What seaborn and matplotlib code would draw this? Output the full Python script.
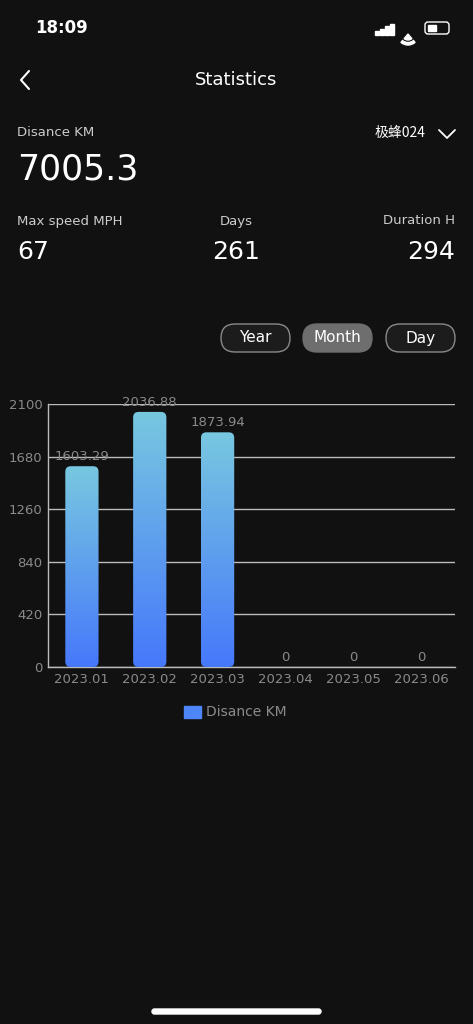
import numpy as np
import matplotlib
matplotlib.use("Agg")
import matplotlib.pyplot as plt
import seaborn as sns
import pandas as pd
from matplotlib.patches import FancyBboxPatch, Rectangle, Wedge

# data
months = ["2023.01", "2023.02", "2023.03", "2023.04", "2023.05", "2023.06"]
distance = [1603.29, 2036.88, 1873.94, 0, 0, 0]
y_ticks = [0, 420, 840, 1260, 1680, 2100]
stat_labels = ["Max speed MPH", "Days", "Duration H"]
stat_values = ["67", "261", "294"]
periods = ["Year", "Month", "Day"]

sns.set_theme(style="dark")
plt.rcParams['font.family'] = ['DejaVu Sans', 'Noto Sans CJK SC']

BG = "#111111"
GREY = "#8a8a8a"
fig = plt.figure(figsize=(4.73, 10.24), dpi=100, facecolor=BG)

# overlay in pixel coords for the app ui
ui = fig.add_axes([0, 0, 1, 1], facecolor=BG)
ui.set_xlim(0, 473)
ui.set_ylim(1024, 0)
ui.axis("off")

ui.text(35, 28, "18:09", color="white", fontsize=12, fontweight="bold", va="center")
# signal bars
for i in range(4):
    ui.add_patch(Rectangle((375 + i * 5, 35 - (4 + i * 2.5)), 3.5, 4 + i * 2.5, color="white"))
ui.add_patch(Wedge((408, 34), 11, 50, 130, color="white", width=2.5))
ui.add_patch(Wedge((408, 34), 6, 50, 130, color="white", width=2.5))
ui.add_patch(Wedge((408, 34), 2.5, 50, 130, color="white"))
ui.add_patch(FancyBboxPatch((425, 22), 24, 12, boxstyle="round,pad=0,rounding_size=3",
                            fc="none", ec="white", lw=1))
ui.add_patch(Rectangle((428, 25), 8, 6, color="white"))

ui.plot([29, 21, 29], [71, 80, 89], color="white", lw=1.5)
ui.text(236, 80, "Statistics", color="white", fontsize=13, ha="center", va="center")

ui.text(17, 132, "Disance KM", color="#cccccc", fontsize=9.5, va="center")
ui.text(17, 169, "7005.3", color="white", fontsize=25, va="center")
ui.text(425, 133, "极蜂024", color="white", fontsize=10, ha="right", va="center",
        family=['Noto Sans CJK SC', 'DejaVu Sans'])
ui.plot([439, 447, 455], [130, 138, 130], color="white", lw=1.3)

for lab, val, x, ha in zip(stat_labels, stat_values, [17, 236, 455], ["left", "center", "right"]):
    ui.text(x, 221, lab, color="#cccccc", fontsize=9.5, ha=ha, va="center")
    ui.text(x, 252, val, color="white", fontsize=18, ha=ha, va="center")

for lab, x in zip(periods, [221, 303, 386]):
    active = lab == "Month"
    ui.add_patch(FancyBboxPatch((x, 324), 69, 28, boxstyle="round,pad=0,rounding_size=14",
                                fc="#6e6e6e" if active else "#1c1c1c",
                                ec="#6e6e6e" if active else "#8a8a8a", lw=1))
    ui.text(x + 34.5, 338, lab, color="white", fontsize=11, ha="center", va="center")

# legend
ui.add_patch(Rectangle((184, 706), 17, 12, color="#4f86f7"))
ui.text(206, 712, "Disance KM", color=GREY, fontsize=10, va="center")

ui.add_patch(FancyBboxPatch((152, 1009), 169, 5, boxstyle="round,pad=0,rounding_size=2.5",
                            color="white"))

# chart
ax = fig.add_axes([48 / 473, 1 - 667 / 1024, 407 / 473, 263 / 1024], facecolor="none")
df = pd.DataFrame({"month": months, "km": distance})
sns.barplot(data=df, x="month", y="km", ax=ax, width=0.49, color="#4f86f7", zorder=2)

grad = np.linspace(0, 1, 256).reshape(-1, 1)
cmap = matplotlib.colors.LinearSegmentedColormap.from_list("g", ["#4678fb", "#78c8e0"])
for p in list(ax.patches):
    x0, w, h = p.get_x(), p.get_width(), p.get_height()
    p.set_visible(False)
    if h <= 0:
        continue
    clip = FancyBboxPatch((x0, 0), w, h, boxstyle="round,pad=0,rounding_size=0.08",
                          mutation_aspect=2100 / 6 * 1.55 / 1, transform=ax.transData,
                          fc="none", ec="none")
    ax.add_patch(clip)
    im = ax.imshow(grad, extent=(x0, x0 + w, 0, h), origin="lower", cmap=cmap,
                   aspect="auto", zorder=3)
    im.set_clip_path(clip)

for i, v in enumerate(distance):
    ax.text(i, v + 25, f"{v:g}" if v else "0", color=GREY, fontsize=9.5,
            ha="center", va="bottom", zorder=1 if v else 4)

ax.set_xlim(-0.5, 5.5)
ax.set_ylim(0, 2100)
ax.set_yticks(y_ticks)
ax.set_yticklabels([str(t) for t in y_ticks])
ax.grid(axis="y", color="#bbbbbb", lw=1, zorder=0)
ax.grid(axis="x", visible=False)
ax.set_xlabel("")
ax.set_ylabel("")
ax.tick_params(colors=GREY, labelsize=9.5, length=0, pad=4)
for s in ["top", "right"]:
    ax.spines[s].set_visible(False)
for s in ["left", "bottom"]:
    ax.spines[s].set_color("#bbbbbb")
    ax.spines[s].set_linewidth(1)

fig.savefig("out.png", dpi=100, facecolor=BG)
